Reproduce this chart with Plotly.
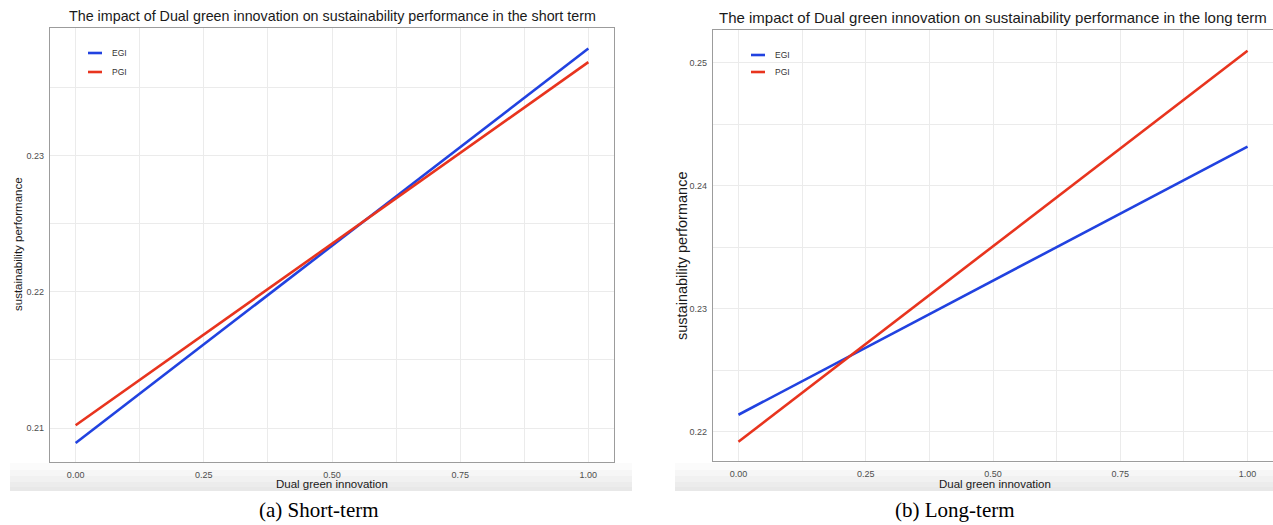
import plotly.graph_objects as go

# ---------------- data ----------------
x_vals = [0.0, 1.0]
short_egi = [0.2089, 0.2379]
short_pgi = [0.2102, 0.2369]
long_egi = [0.2214, 0.2432]
long_pgi = [0.2192, 0.2510]

x_ticks = [0.0, 0.25, 0.5, 0.75, 1.0]
x_tick_labels = ["0.00", "0.25", "0.50", "0.75", "1.00"]
short_y_ticks = [0.21, 0.22, 0.23]
long_y_ticks = [0.22, 0.23, 0.24, 0.25]

series_names = ["EGI", "PGI"]
titles = [
    "The impact of Dual green innovation on sustainability performance in the short term",
    "The impact of Dual green innovation on sustainability performance in the long term",
]
captions = ["(a) Short-term", "(b) Long-term"]
x_title = "Dual green innovation"
y_title = "sustainability performance"

# ---------------- style ----------------
W, H = 1273, 525
BLUE = "#2142E0"
RED = "#E8341E"
GRID = "#EBEBEB"
BORDER = "#9C9C9C"
SANS = "Liberation Sans, Arial, sans-serif"
SERIF = "Liberation Serif, Times New Roman, serif"


def px(x):
    return x / W


def py(y):
    return 1 - y / H


fig = go.Figure()

# traces
for xa, ya, egi, pgi in [("x", "y", short_egi, short_pgi), ("x2", "y2", long_egi, long_pgi)]:
    fig.add_trace(go.Scatter(x=x_vals, y=egi, mode="lines", name=series_names[0],
                             line=dict(color=BLUE, width=2.6), xaxis=xa, yaxis=ya, showlegend=False))
    fig.add_trace(go.Scatter(x=x_vals, y=pgi, mode="lines", name=series_names[1],
                             line=dict(color=RED, width=2.6), xaxis=xa, yaxis=ya, showlegend=False))


def xaxis(domain, anchor):
    return dict(domain=domain, anchor=anchor, range=[-0.05, 1.05],
                tickvals=x_ticks, ticktext=x_tick_labels,
                tickfont=dict(family=SANS, size=9, color="#4D4D4D"),
                showgrid=True, gridcolor=GRID, gridwidth=1, zeroline=False,
                minor=dict(tick0=0.125, dtick=0.25, showgrid=True, gridcolor=GRID, gridwidth=0.8),
                showline=True, linecolor=BORDER, linewidth=1.2, mirror=True,
                ticks="", ticklabelstandoff=4, automargin=False, fixedrange=True)


def yaxis(domain, anchor, rng, ticks):
    return dict(domain=domain, anchor=anchor, range=rng,
                tickvals=ticks, ticktext=[f"{t:.2f}" for t in ticks],
                tickfont=dict(family=SANS, size=9, color="#4D4D4D"),
                showgrid=True, gridcolor=GRID, gridwidth=1, zeroline=False,
                minor=dict(tick0=0.005, dtick=0.01, showgrid=True, gridcolor=GRID, gridwidth=0.8),
                showline=True, linecolor=BORDER, linewidth=1.2, mirror=True,
                ticks="", ticklabelstandoff=3, automargin=False, fixedrange=True)


fig.update_layout(
    width=W, height=H,
    margin=dict(l=0, r=0, t=0, b=0),
    paper_bgcolor="white", plot_bgcolor="white",
    showlegend=False,
    xaxis=xaxis([px(50), px(614)], "y"),
    yaxis=yaxis([py(462), py(28)], "x", [0.2075, 0.23941], short_y_ticks),
    xaxis2=xaxis([px(713), 1.0], "y2"),
    yaxis2=yaxis([py(461), py(30)], "x2", [0.21764, 0.25268], long_y_ticks),
)

shapes = []
annotations = []

# soft grey band (photo shadow) under each panel
for x0, x1 in [(10, 632), (675, 1273)]:
    steps = [(463, 470, "#FBFBFB"), (470, 476, "#F6F6F6"), (476, 482, "#F1F1F1"),
             (482, 487, "#ECECEC"), (487, 491, "#E8E8E8")]
    for y0, y1, c in steps:
        shapes.append(dict(type="rect", xref="paper", yref="paper", layer="below",
                           x0=px(x0), x1=px(x1), y0=py(y1), y1=py(y0),
                           fillcolor=c, line=dict(width=0)))

# manual legends (inside top-left of each panel)
legend_specs = [
    (88, 102, 110, [53, 72]),
    (751, 765, 773, [55, 72]),
]
for lx0, lx1, tx, ys in legend_specs:
    for name, color, yy in zip(series_names, [BLUE, RED], ys):
        shapes.append(dict(type="line", xref="paper", yref="paper",
                           x0=px(lx0), x1=px(lx1), y0=py(yy), y1=py(yy),
                           line=dict(color=color, width=2.6)))
        annotations.append(dict(text=name, xref="paper", yref="paper", x=px(tx), y=py(yy),
                                xanchor="left", yanchor="middle", showarrow=False,
                                font=dict(family=SANS, size=8.5, color="#333333")))

# titles, axis titles, captions
title_x = [332, 993]
title_y = [16, 17]
title_size = [14.3, 15]
xtitle_x = [332, 995]
ytitle_x = [18, 682]
ytitle_y = [244, 256]
ytitle_size = [11.5, 14.5]
caption_x = [319, 955]
for i in range(2):
    annotations.append(dict(text=titles[i], xref="paper", yref="paper",
                            x=px(title_x[i]), y=py(title_y[i]), xanchor="center", yanchor="middle",
                            showarrow=False, font=dict(family=SANS, size=title_size[i], color="#1A1A1A")))
    annotations.append(dict(text=x_title, xref="paper", yref="paper",
                            x=px(xtitle_x[i]), y=py(484), xanchor="center", yanchor="middle",
                            showarrow=False, font=dict(family=SANS, size=11.5, color="#1A1A1A")))
    annotations.append(dict(text=y_title, xref="paper", yref="paper",
                            x=px(ytitle_x[i]), y=py(ytitle_y[i]), xanchor="center", yanchor="middle",
                            textangle=-90, showarrow=False,
                            font=dict(family=SANS, size=ytitle_size[i], color="#1A1A1A")))
    annotations.append(dict(text=captions[i], xref="paper", yref="paper",
                            x=px(caption_x[i]), y=py(510), xanchor="center", yanchor="middle",
                            showarrow=False, font=dict(family=SERIF, size=21, color="#000000")))

fig.update_layout(shapes=shapes, annotations=annotations)

fig.write_html(
    "out.html",
    config={"displayModeBar": False},
    post_script="document.body.style.margin='0';document.body.style.padding='0';"
                "document.body.style.overflow='hidden';",
)
